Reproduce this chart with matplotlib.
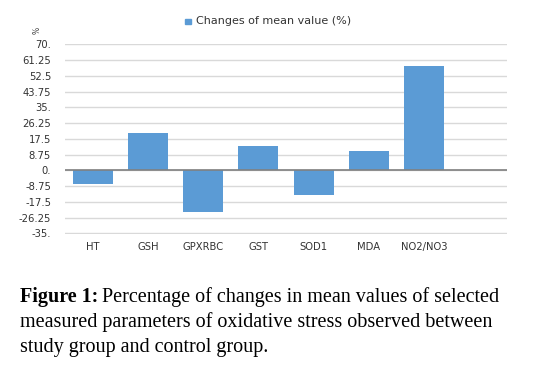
import matplotlib
matplotlib.use("Agg")
import matplotlib.pyplot as plt
from matplotlib.patches import Rectangle

categories = ["HT", "GSH", "GPXRBC", "GST", "SOD1", "MDA", "NO2/NO3"]
values = [-7.7, 21.0, -23.0, 13.4, -13.6, 10.7, 57.9]
yticks = [70, 61.25, 52.5, 43.75, 35, 26.25, 17.5, 8.75, 0, -8.75, -17.5, -26.25, -35]
ytick_labels = ["70.", "61.25", "52.5", "43.75", "35.", "26.25", "17.5", "8.75", "0.",
                "-8.75", "-17.5", "-26.25", "-35."]
series_name = "Changes of mean value (%)"
caption_bold = "Figure 1:"
caption_rest = ["Percentage of changes in mean values of selected",
                "measured parameters of oxidative stress observed between",
                "study group and control group."]

W, H = 544, 369
fig = plt.figure(figsize=(W / 100, H / 100), dpi=100)
ax = fig.add_axes([65 / W, 1 - 234 / H, (507 - 65) / W, (234 - 43.6) / H])

bar_color = "#5B9BD5"
x = list(range(len(categories)))
ax.bar(x, values, width=0.72, color=bar_color, zorder=3)
ax.set_xlim(-0.5, 7.5)
ax.set_ylim(-35.4, 70.4)
ax.set_yticks(yticks)
ax.set_yticklabels(ytick_labels)
ax.set_xticks(x)
ax.set_xticklabels(categories)
ax.tick_params(axis="both", length=0, labelsize=7.2, colors="#333333")
ax.tick_params(axis="y", pad=10)
ax.tick_params(axis="x", pad=6)
for lab in ax.get_xticklabels() + ax.get_yticklabels():
    lab.set_fontfamily("DejaVu Sans")
ax.grid(axis="y", color="#D9D9D9", linewidth=1, zorder=0)
ax.axhline(0, color="#808080", linewidth=1.2, zorder=4)
for s in ax.spines.values():
    s.set_visible(False)

# legend
fig.patches.append(Rectangle((185 / W, 1 - 23.5 / H), 5.5 / W, 4.5 / H,
                             transform=fig.transFigure, color=bar_color))
fig.text(196 / W, 1 - 21 / H, series_name, fontsize=8, family="DejaVu Sans",
         va="center", ha="left", color="#333333")
fig.text(37 / W, 1 - 30 / H, "%", fontsize=5.5, rotation=90, va="center", ha="center",
         family="DejaVu Sans", color="#404040")

# caption
cap_fs = 14.5
y0 = 1 - 302 / H
t = fig.text(20 / W, y0, caption_bold, fontsize=cap_fs, family="Liberation Serif",
             fontweight="bold", va="baseline", ha="left")
fig.canvas.draw()
bb = t.get_window_extent()
fig.text((bb.x1 + 4) / W, y0, caption_rest[0], fontsize=cap_fs, family="Liberation Serif",
         va="baseline", ha="left")
for i, line in enumerate(caption_rest[1:], start=1):
    fig.text(20 / W, 1 - (302 + 25 * i) / H, line, fontsize=cap_fs,
             family="Liberation Serif", va="baseline", ha="left")

fig.savefig("out.png", dpi=100)
